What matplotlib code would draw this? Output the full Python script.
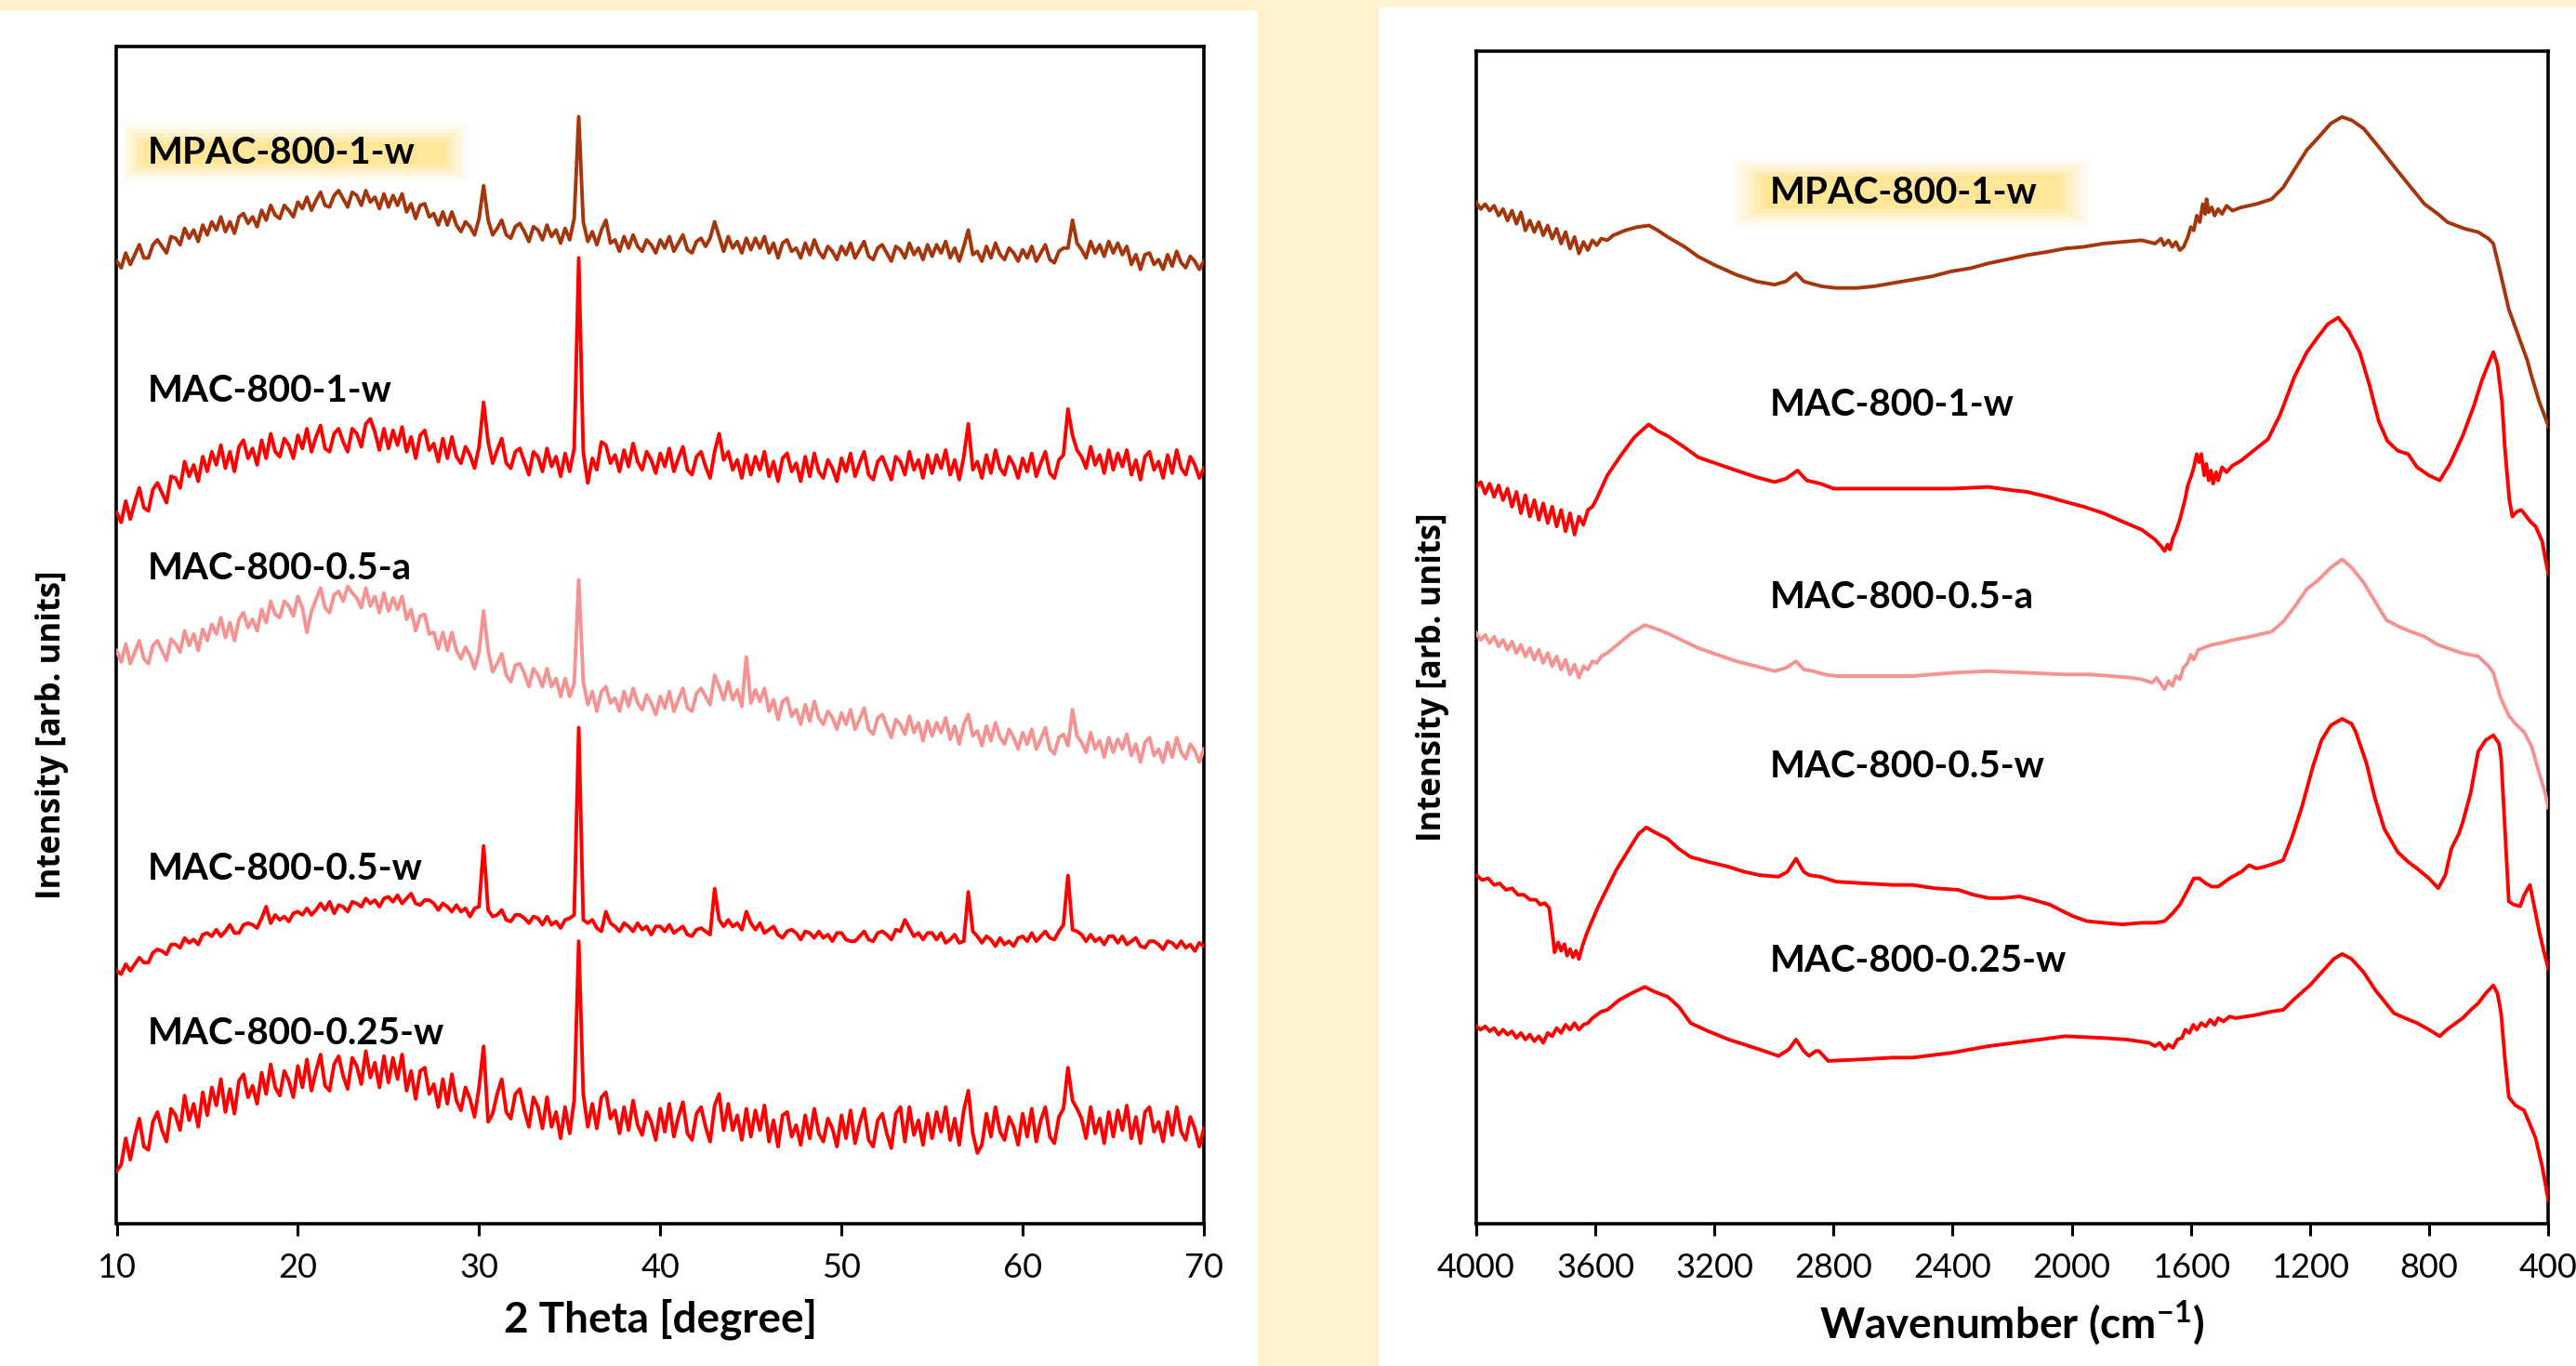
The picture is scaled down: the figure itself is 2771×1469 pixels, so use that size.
import numpy as np
import matplotlib.pyplot as plt
from matplotlib.patches import Rectangle

plt.rcParams['font.family'] = ['Lato', 'DejaVu Sans']
plt.rcParams['mathtext.fontset'] = 'custom'
plt.rcParams['mathtext.rm'] = 'Lato'
plt.rcParams['mathtext.bf'] = 'Lato:bold'

# ---------------- XRD (left) ----------------
# stacked intensities (arb. units, offsets included), read on a 0.25 degree grid
two_theta = np.arange(10, 70.001, 0.25)

xrd_mpac = [586, 582, 591, 584, 590, 596, 588, 588, 596, 599, 595, 591, 601, 600, 596, 606, 600, 605, 598, 608,
            602, 610, 605, 613, 604, 610, 603, 613, 615, 609, 613, 607, 617, 611, 620, 614, 612, 620, 617, 613,
            622, 618, 625, 617, 623, 628, 620, 619, 626, 629, 624, 619, 628, 626, 620, 629, 622, 625, 618, 627,
            619, 626, 620, 627, 616, 621, 612, 620, 621, 613, 615, 608, 616, 608, 616, 608, 604, 610, 607, 602,
            612, 632, 611, 602, 606, 611, 602, 600, 607, 609, 604, 598, 607, 605, 599, 608, 601, 605, 597, 606,
            599, 612, 674, 610, 598, 604, 596, 605, 611, 597, 599, 592, 601, 594, 602, 595, 592, 599, 596, 591,
            599, 594, 601, 592, 597, 602, 593, 591, 598, 600, 595, 600, 610, 601, 592, 601, 594, 598, 591, 600,
            593, 600, 594, 601, 591, 597, 588, 597, 599, 592, 594, 588, 597, 590, 599, 592, 588, 595, 592, 587,
            595, 590, 597, 588, 593, 598, 589, 587, 594, 596, 591, 586, 595, 593, 588, 597, 590, 594, 587, 596,
            589, 596, 591, 598, 588, 594, 586, 595, 605, 590, 592, 586, 595, 588, 597, 590, 587, 594, 591, 586,
            593, 588, 595, 586, 591, 596, 587, 585, 592, 594, 594, 611, 597, 593, 588, 598, 591, 596, 589, 598,
            591, 597, 590, 595, 584, 590, 581, 590, 591, 584, 587, 581, 590, 583, 592, 585, 582, 589, 586, 581,
            586]
xrd_mac1 = [433, 427, 440, 429, 439, 448, 436, 434, 447, 451, 445, 439, 455, 454, 448, 464, 455, 462, 452, 467,
            458, 470, 462, 474, 460, 470, 458, 473, 477, 466, 472, 462, 477, 466, 481, 470, 467, 478, 474, 466,
            480, 472, 484, 470, 479, 486, 472, 470, 481, 484, 476, 470, 484, 481, 473, 487, 490, 482, 471, 484,
            472, 483, 474, 485, 470, 479, 466, 480, 483, 471, 475, 464, 478, 466, 479, 467, 463, 473, 468, 460,
            473, 500, 476, 463, 471, 478, 463, 460, 470, 472, 464, 456, 470, 467, 458, 472, 461, 467, 455, 469,
            458, 472, 588, 470, 451, 466, 459, 476, 474, 463, 468, 458, 471, 461, 475, 464, 459, 470, 465, 457,
            469, 461, 472, 458, 466, 473, 459, 456, 467, 470, 461, 454, 470, 481, 465, 470, 459, 465, 454, 468,
            456, 467, 459, 470, 455, 464, 452, 466, 469, 458, 463, 452, 467, 455, 469, 458, 454, 465, 460, 452,
            466, 458, 469, 455, 463, 470, 456, 453, 464, 467, 460, 453, 467, 464, 456, 470, 459, 465, 454, 468,
            457, 468, 460, 471, 456, 465, 453, 467, 487, 459, 464, 454, 468, 457, 471, 460, 456, 467, 462, 454,
            466, 458, 469, 455, 463, 470, 457, 454, 465, 468, 496, 480, 471, 467, 460, 473, 462, 468, 457, 471,
            459, 469, 461, 471, 456, 465, 453, 467, 470, 459, 464, 454, 468, 457, 471, 460, 456, 467, 462, 454,
            460]
xrd_mac05a = [349, 342, 353, 341, 348, 355, 344, 341, 352, 355, 349, 343, 356, 353, 348, 361, 352, 359, 349, 362,
              355, 365, 359, 369, 357, 366, 355, 368, 372, 363, 368, 361, 374, 366, 379, 371, 369, 379, 376, 370,
              382, 375, 360, 373, 380, 387, 375, 372, 383, 385, 379, 388, 384, 381, 375, 387, 376, 382, 372, 384,
              373, 381, 374, 382, 368, 374, 361, 370, 371, 359, 360, 350, 360, 349, 360, 349, 344, 351, 346, 338,
              348, 373, 349, 336, 341, 347, 334, 330, 340, 341, 335, 327, 338, 334, 327, 338, 327, 332, 321, 332,
              321, 329, 392, 330, 316, 324, 312, 324, 327, 317, 320, 312, 324, 315, 326, 317, 313, 322, 317, 310,
              321, 314, 324, 312, 319, 326, 314, 312, 323, 326, 321, 316, 334, 327, 319, 330, 319, 325, 315, 345,
              317, 325, 318, 326, 312, 319, 307, 318, 320, 309, 313, 304, 316, 306, 318, 308, 304, 312, 308, 301,
              311, 304, 313, 301, 307, 314, 301, 298, 308, 310, 303, 296, 307, 304, 298, 309, 299, 305, 294, 306,
              297, 305, 299, 308, 295, 303, 292, 304, 310, 297, 300, 291, 303, 294, 305, 296, 292, 301, 296, 289,
              299, 292, 301, 289, 295, 302, 289, 286, 296, 298, 291, 313, 297, 293, 287, 299, 289, 294, 284, 296,
              287, 295, 289, 298, 285, 292, 281, 293, 296, 285, 289, 281, 293, 284, 296, 287, 283, 292, 288, 281,
              289]
xrd_mac05w = [154, 152, 158, 154, 158, 162, 159, 159, 165, 167, 166, 164, 170, 170, 168, 174, 171, 173, 170, 176,
              177, 175, 179, 175, 178, 182, 177, 177, 182, 183, 182, 180, 186, 193, 183, 188, 185, 187, 184, 189,
              190, 188, 192, 188, 191, 195, 191, 196, 189, 194, 193, 190, 196, 195, 193, 198, 195, 197, 193, 198,
              199, 196, 200, 195, 198, 201, 195, 194, 197, 197, 195, 191, 195, 193, 190, 194, 190, 192, 187, 192,
              193, 230, 191, 187, 188, 191, 185, 184, 188, 188, 186, 183, 187, 186, 182, 187, 182, 184, 180, 185,
              186, 188, 302, 185, 183, 185, 180, 178, 190, 183, 181, 178, 183, 181, 178, 183, 179, 181, 176, 181,
              181, 178, 182, 177, 179, 181, 176, 175, 179, 180, 178, 176, 204, 185, 181, 185, 181, 183, 179, 190,
              183, 179, 183, 177, 179, 181, 176, 174, 178, 179, 177, 173, 178, 177, 174, 178, 174, 176, 172, 177,
              177, 173, 172, 172, 175, 178, 173, 172, 177, 178, 176, 173, 179, 178, 185, 180, 175, 177, 173, 177,
              177, 173, 177, 171, 173, 176, 171, 172, 202, 178, 175, 171, 175, 173, 169, 174, 170, 172, 169, 174,
              175, 172, 177, 172, 175, 178, 174, 173, 178, 182, 212, 179, 178, 176, 172, 176, 172, 174, 170, 175,
              175, 171, 175, 170, 172, 174, 169, 168, 172, 172, 170, 167, 172, 171, 168, 172, 168, 170, 166, 171,
              169]
xrd_mac025w = [32, 36, 52, 39, 53, 64, 47, 45, 62, 68, 57, 50, 70, 66, 57, 78, 63, 73, 59, 80,
               66, 83, 72, 88, 68, 82, 67, 87, 91, 77, 84, 73, 92, 79, 97, 83, 78, 93, 87, 77,
               96, 83, 100, 81, 93, 103, 84, 81, 97, 102, 90, 82, 101, 96, 85, 105, 89, 98, 83, 102,
               86, 101, 88, 103, 81, 93, 76, 93, 95, 79, 85, 71, 88, 73, 91, 75, 69, 83, 76, 65,
               83, 108, 62, 67, 79, 88, 68, 64, 79, 82, 69, 59, 77, 71, 58, 77, 59, 68, 52, 71,
               55, 75, 172, 79, 59, 73, 58, 77, 80, 64, 69, 55, 71, 57, 75, 60, 54, 68, 62, 51,
               70, 56, 73, 53, 65, 74, 55, 51, 67, 71, 59, 50, 72, 79, 57, 73, 57, 66, 51, 70,
               53, 69, 57, 72, 50, 63, 47, 66, 68, 53, 60, 48, 66, 52, 70, 55, 50, 64, 58, 47,
               66, 52, 69, 49, 61, 70, 51, 47, 63, 67, 55, 46, 67, 71, 50, 71, 54, 63, 48, 67,
               52, 68, 56, 71, 51, 64, 48, 69, 81, 55, 43, 48, 67, 53, 71, 56, 51, 65, 59, 48,
               67, 53, 70, 50, 63, 71, 53, 49, 65, 70, 95, 75, 70, 64, 52, 71, 55, 64, 49, 68,
               53, 69, 57, 72, 52, 65, 49, 68, 71, 56, 62, 50, 68, 54, 71, 56, 51, 65, 58, 47,
               58]

# ---------------- FTIR (right) ----------------
# noisy O-H region shared sampling (cm-1)
wn_hi = [4000, 3985, 3970, 3955, 3940, 3925, 3910, 3895, 3880, 3865, 3850, 3835, 3820, 3805, 3790,
         3775, 3760, 3745, 3730, 3715, 3700, 3685, 3670, 3655, 3640, 3625, 3610, 3595, 3580, 3560]

wn_mpac = wn_hi + [3540, 3500, 3460, 3420, 3390, 3357, 3300, 3254, 3200, 3126, 3060, 2998, 2960, 2926, 2900,
                   2882, 2840, 2792, 2720, 2664, 2600, 2535, 2470, 2407, 2340, 2279, 2200, 2150, 2080, 2022,
                   1960, 1893, 1830, 1765,
                   1720, 1700, 1690, 1675, 1662, 1650, 1637, 1624, 1610, 1600, 1590, 1580, 1570, 1560, 1552,
                   1547, 1540, 1530, 1520, 1508, 1495, 1480, 1460, 1431,
                   1380, 1329, 1290, 1252, 1210, 1174, 1130, 1092, 1060, 1020, 970, 918, 860, 815, 770,
                   738, 680, 635, 600, 584, 560, 532, 510, 494, 470, 455, 430, 399]
ir_mpac = [621, 617, 620, 616, 619, 613, 617, 610, 616, 608, 615, 604, 610, 603, 609,
           601, 607, 599, 605, 596, 603, 593, 600, 590, 597, 592, 598, 595, 599, 598,
           601, 604, 606, 607, 604, 600, 594, 588, 583, 577, 573, 571, 573, 578, 573,
           572, 570, 569, 569, 570, 572, 574, 576, 579, 581, 584, 587, 589, 591, 593,
           594, 596, 597, 598,
           596, 599, 595, 598, 594, 597, 592, 594, 600, 606, 604, 613, 609, 620, 614,
           623, 615, 618, 613, 617, 614, 619, 616, 618,
           620, 623, 630, 641, 653, 660, 669, 673, 671, 666, 655, 643, 630, 620, 614,
           609, 605, 603, 599, 596, 578, 556, 545, 537, 525, 515, 500, 485]

wn_mac1 = wn_hi + [3530, 3511, 3470, 3440, 3421, 3390, 3357, 3300, 3254, 3190, 3126, 3060, 2998, 2960, 2921,
                   2890, 2844, 2800, 2741, 2640, 2535, 2400, 2279, 2200, 2150, 2080, 2022, 1960, 1893, 1830,
                   1765, 1720,
                   1700, 1688, 1678, 1670, 1660, 1650, 1637, 1620, 1610, 1598, 1590, 1580, 1572, 1565, 1555,
                   1548, 1540, 1532, 1525, 1515, 1508, 1495, 1480, 1460,
                   1431, 1390, 1341, 1300, 1252, 1210, 1174, 1140, 1105, 1070, 1033, 1000, 969, 940, 905,
                   870, 840, 800, 764, 730, 687, 650, 622, 600, 584, 570, 555, 545, 530, 520,
                   505, 490, 481, 460, 442, 420, 410, 399]
ir_mac1 = [448, 451, 444, 450, 442, 449, 440, 447, 436, 445, 432, 443, 430, 440, 428,
           438, 426, 436, 424, 434, 421, 432, 419, 430, 425, 434, 436, 441, 447, 455,
           463, 468, 478, 483, 486, 482, 479, 472, 466, 462, 458, 454, 451, 453, 458,
           452, 450, 447, 447, 447, 447, 447, 448, 446, 445, 442, 439, 436, 432, 427,
           422, 416,
           412, 409, 413, 410, 417, 421, 428, 440, 449, 455, 460, 468, 463, 468, 455,
           462, 452, 458, 450, 457, 452, 460, 457, 461,
           464, 470, 477, 492, 515, 530, 539, 547, 551, 543, 530, 510, 488, 476, 470,
           468, 460, 455, 452, 462, 479, 497, 513, 523, 530, 522, 500, 471, 440, 430,
           433, 434, 432, 427, 424, 415, 405, 395]

wn_mac05a = wn_hi + [3520, 3480, 3434, 3400, 3357, 3300, 3254, 3190, 3126, 3060, 2998, 2960, 2926, 2900,
                     2869, 2830, 2792, 2700, 2600, 2535, 2400, 2279, 2150, 2022, 1940, 1868, 1800, 1765,
                     1730, 1715, 1700, 1688, 1675, 1662, 1650, 1637, 1625, 1611, 1600, 1590, 1575, 1560,
                     1530, 1500, 1457, 1400, 1329, 1290, 1252, 1210, 1174, 1130, 1092, 1060, 1020, 980,
                     943, 900, 860, 815, 770, 738, 690, 635, 600, 584, 560, 532, 510, 481, 455, 430,
                     410, 399]
ir_mac05a = [359, 355, 358, 353, 357, 351, 355, 349, 354, 347, 352, 345, 350, 343, 349,
             341, 347, 339, 345, 337, 343, 334, 340, 332, 339, 337, 342, 341, 345, 347,
             353, 359, 364, 362, 359, 354, 350, 346, 342, 339, 336, 338, 342, 337,
             336, 334, 333, 333, 333, 333, 335, 336, 335, 334, 334, 333, 332, 331,
             329, 332, 328, 325, 330, 327, 333, 331, 338, 341, 346, 343, 349, 350,
             352, 353, 355, 357, 360, 366, 375, 386, 391, 399, 404, 399, 390, 378,
             367, 363, 360, 357, 352, 350, 347, 345, 339, 335, 320, 309, 304, 299, 290, 274,
             262, 253]

wn_mac05w = [4000, 3980, 3960, 3940, 3922, 3900, 3880, 3860, 3840, 3819, 3800, 3785, 3770, 3755, 3745,
             3737, 3725, 3715, 3704, 3695, 3685, 3675, 3665, 3655, 3645, 3630, 3614, 3590, 3563, 3530,
             3486, 3455, 3429, 3400, 3357, 3320, 3280, 3220, 3152, 3100, 3049, 2985, 2955, 2926, 2900,
             2882, 2844, 2792, 2700, 2600, 2535, 2460, 2381, 2330, 2279, 2230, 2176, 2130, 2073, 2030,
             1996, 1950, 1893, 1830, 1765, 1720, 1688, 1660, 1637, 1610, 1590, 1572, 1550, 1530, 1508,
             1470, 1430, 1405, 1380, 1354, 1320, 1290, 1260, 1226, 1190, 1161, 1130, 1092, 1060, 1046,
             1010, 982, 950, 905, 870, 840, 800, 769, 745, 725, 700, 687, 660, 635, 610,
             584, 565, 558, 545, 532, 515, 494, 480, 461, 450, 430, 415, 399]
ir_mac05w = [212, 209, 210, 206, 207, 203, 204, 200, 200, 197, 197, 194, 195, 192, 178,
             165, 171, 166, 170, 163, 167, 162, 166, 161, 168, 176, 183, 193, 203, 215,
             228, 237, 241, 238, 234, 228, 223, 220, 217, 214, 212, 211, 214, 222, 214,
             212, 211, 208, 207, 206, 206, 204, 203, 200, 198, 198, 199, 197, 194, 190,
             187, 184, 183, 182, 183, 183, 184, 189, 194, 203, 210, 210, 207, 205, 205,
             210, 214, 218, 216, 217, 219, 221, 235, 254, 278, 294, 303, 307, 304, 299,
             280, 259, 240, 226, 220, 216, 210, 204, 212, 228, 237, 244, 262, 287, 294,
             297, 292, 284, 240, 196, 194, 193, 200, 206, 196, 178, 166, 155]

wn_mac025w = wn_hi + [3520, 3480, 3434, 3400, 3357, 3320, 3280, 3220, 3152, 3100, 3049, 2985, 2950, 2926,
                      2900, 2882, 2860, 2849, 2818, 2700, 2600, 2535, 2400, 2279, 2150, 2022, 1900, 1816,
                      1740,
                      1720, 1705, 1688, 1675, 1660, 1645, 1630, 1618, 1605, 1592, 1580, 1565, 1550, 1535,
                      1520, 1508, 1490, 1470, 1450,
                      1380, 1330, 1290, 1250, 1200, 1150, 1120, 1092, 1060, 1020, 980, 918, 880, 840,
                      800, 764, 740, 710, 687, 660, 635, 610, 584, 570, 558, 545, 532, 510, 481, 460,
                      442, 420, 410, 399]
ir_mac025w = [120, 118, 120, 117, 119, 115, 118, 115, 117, 113, 116, 112, 115, 111, 114,
              110, 116, 114, 119, 116, 121, 118, 122, 118, 121, 122, 125, 127, 129, 130,
              136, 140, 144, 141, 138, 132, 122, 117, 112, 109, 106, 102, 106, 112,
              105, 102, 105, 105, 99, 100, 101, 101, 104, 108, 111, 114, 113, 112,
              110,
              108, 110, 106, 109, 107, 112, 113, 118, 116, 121, 118, 122, 120, 124,
              121, 125, 123, 126, 125,
              127, 129, 130, 137, 145, 155, 161, 164, 161, 153, 142, 128, 125, 122,
              118, 114, 118, 122, 125, 130, 134, 140, 145, 140, 128, 100, 77, 72, 69, 60,
              52, 35, 25, 14]

sample_names = ['MPAC-800-1-w', 'MAC-800-1-w', 'MAC-800-0.5-a', 'MAC-800-0.5-w', 'MAC-800-0.25-w']
colors = ['#A5350B', '#FF0000', '#F59393', '#FF0000', '#FF0000']
xrd_label_h = [652, 507, 399, 216, 116]
ir_label_h = [627, 498, 381, 278, 160]

xrd = [xrd_mpac, xrd_mac1, xrd_mac05a, xrd_mac05w, xrd_mac025w]
ftir = [(wn_mpac, ir_mpac), (wn_mac1, ir_mac1), (wn_mac05a, ir_mac05a),
        (wn_mac05w, ir_mac05w), (wn_mac025w, ir_mac025w)]
for s in xrd:
    assert len(s) == len(two_theta), len(s)
for a, b in ftir:
    assert len(a) == len(b), (len(a), len(b))

W, H = 2771, 1469
fig = plt.figure(figsize=(W / 100, H / 100), dpi=100, facecolor='#FFF2CC')
# white panels on the cream background
fig.add_artist(Rectangle((0, 0), 1353 / W, 1 - 12 / H, transform=fig.transFigure,
                         facecolor='white', edgecolor='none', zorder=0))
fig.add_artist(Rectangle((1483 / W, 0), 1 - 1483 / W, 1 - 8 / H, transform=fig.transFigure,
                         facecolor='white', edgecolor='none', zorder=0))

ax1 = fig.add_axes([125.5 / W, 1 - 1316 / H, 1169.5 / W, 1266.5 / H])
ax2 = fig.add_axes([1588 / W, 1 - 1316 / H, 1153 / W, 1261 / H])


def glow(ax, x0, x1, y0, y1, dx, dy):
    # soft yellow highlight: stacked rectangles, widest first
    for k, a in [(4, 0.12), (3, 0.2), (2, 0.3), (1, 0.5), (0, 1.0)]:
        ax.add_patch(Rectangle((x0 - k * dx, y0 - k * dy), (x1 - x0) + 2 * k * dx, (y1 - y0) + 2 * k * dy,
                               facecolor='#FFE699', edgecolor='none', alpha=a, zorder=1))


for ax in (ax1, ax2):
    ax.set_facecolor('white')
    for s in ax.spines.values():
        s.set_linewidth(2.6)
        s.set_color('black')
    ax.set_yticks([])
    ax.tick_params(axis='x', direction='out', length=9, width=2.2, labelsize=26, pad=13,
                   top=False, colors='black')

for h, c in zip(xrd, colors):
    ax1.plot(two_theta, h, color=c, lw=2.8, zorder=3)
for (x, h), c in zip(ftir, colors):
    ax2.plot(x, h, color=c, lw=2.8, zorder=3)

glow(ax1, 11.4, 28.2, 645, 659, 0.28, 2.5)
glow(ax2, 3040, 2040, 617, 637, -24, 2.5)

for name, yh in zip(sample_names, xrd_label_h):
    ax1.text(11.72, yh, name, fontsize=29, fontweight='bold', va='center', ha='left', zorder=4)
for name, yh in zip(sample_names, ir_label_h):
    ax2.text(3013, yh, name, fontsize=29, fontweight='bold', va='center', ha='left', zorder=4)

ax1.set_xlim(10, 70)
ax1.set_ylim(0, 717)
ax1.set_xticks(range(10, 71, 10))
ax1.set_xlabel('2 Theta [degree]', fontsize=33, fontweight='bold', labelpad=12)

ax2.set_xlim(4000, 400)
ax2.set_ylim(0, 713)
ax2.set_xticks(range(4000, 399, -400))
ax2.set_xlabel(r'Wavenumber (cm$^{\mathbf{-1}}$)', fontsize=33, fontweight='bold', labelpad=12)

fig.text(56.5 / W, 1 - 790 / H, 'Intensity [arb. units]', rotation=90, ha='center', va='center',
         fontsize=25, fontweight='bold', family=['Open Sans', 'DejaVu Sans'])
fig.text(1541 / W, 1 - 728 / H, 'Intensity [arb. units]', rotation=90, ha='center', va='center',
         fontsize=25, fontweight='bold', family=['Open Sans', 'DejaVu Sans'])

fig.savefig('out.png', dpi=100, facecolor=fig.get_facecolor())
